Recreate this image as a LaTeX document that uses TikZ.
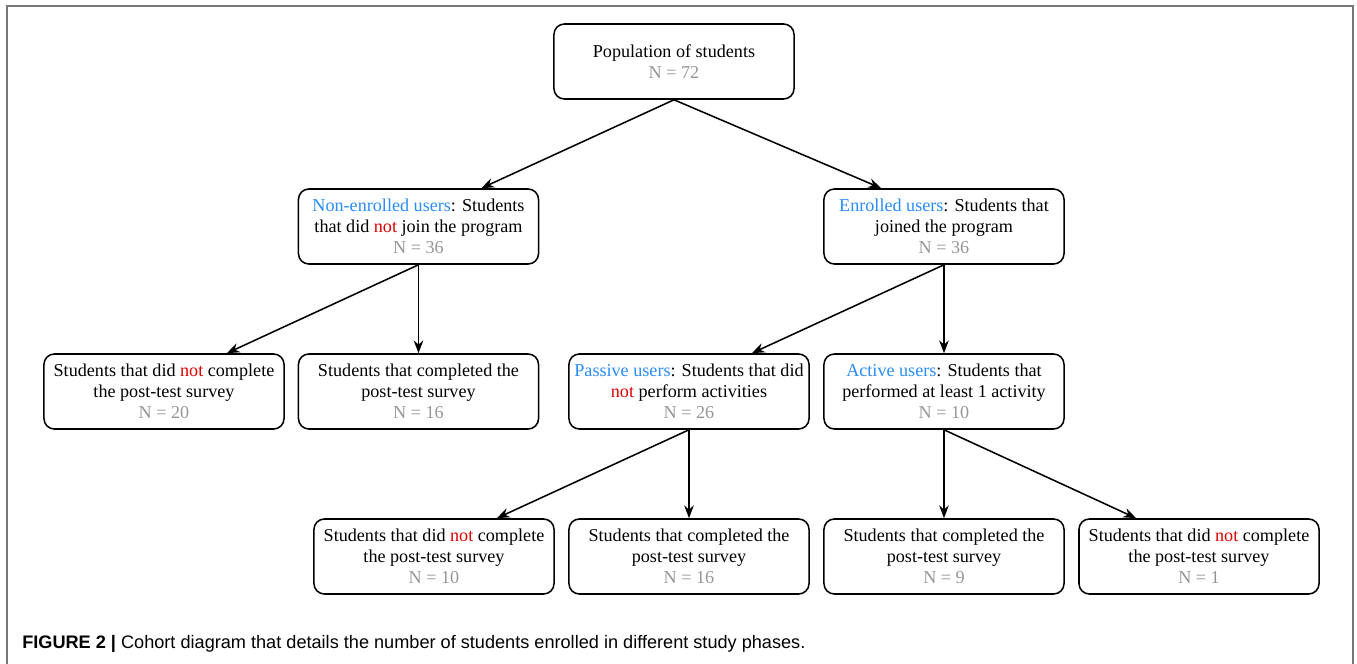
\documentclass[tikz,border=0pt]{standalone}
\usepackage{fontspec}
\setmainfont{Liberation Serif}
\newfontfamily\capfont{Liberation Sans}
\usetikzlibrary{calc,arrows.meta}
\definecolor{userblue}{RGB}{40,140,250}
\definecolor{notred}{RGB}{220,0,0}
\definecolor{numgray}{RGB}{150,150,150}
\definecolor{framegray}{RGB}{120,120,120}
\def\usr#1{\textcolor{userblue}{#1}}
\def\nt{\textcolor{notred}{not}}
\def\cnt#1{\textcolor{numgray}{N = #1}}
\tikzset{
	cohort/.style={draw, line width=1.1pt, rounded corners=0.26cm, minimum width=6cm, minimum height=1.875cm, align=center, font=\fontsize{12.9pt}{14.9pt}\selectfont, inner sep=0pt},
	flow/.style={line width=1.1pt, -{Stealth[length=0.32cm, width=0.24cm]}}
}
\begin{document}
\begin{tikzpicture}[x=0.025cm, y=-0.025cm]
			%%%%% START %%%%%
			\useasboundingbox (0, 0) rectangle (1357, 664);
			\draw[line width=1.4pt, color=framegray] (7, 664) -- (7, 6) -- (1353, 6) -- (1353, 664);
			
			\node[cohort] (pop) at (674, 61.5) {Population of students\\ \cnt{72}};
			
			\node[cohort] (nonenr) at (418.5, 226.5) {\usr{Non-enrolled users}: Students\\ that did \nt{} join the program\\ \cnt{36}};
			\node[cohort] (enr) at (944, 226.5) {\usr{Enrolled users}: Students that\\ joined the program\\ \cnt{36}};
			
			\node[cohort] (nocomp1) at (164, 391.5) {Students that did \nt{} complete\\ the post-test survey\\ \cnt{20}};
			\node[cohort] (comp1) at (418.5, 391.5) {Students that completed the\\ post-test survey\\ \cnt{16}};
			\node[cohort] (passive) at (689, 391.5) {\usr{Passive users}: Students that did\\ \nt{} perform activities\\ \cnt{26}};
			\node[cohort] (active) at (944, 391.5) {\usr{Active users}: Students that\\ performed at least 1 activity\\ \cnt{10}};
			
			\node[cohort] (nocomp2) at (434, 556.5) {Students that did \nt{} complete\\ the post-test survey\\ \cnt{10}};
			\node[cohort] (comp2) at (689, 556.5) {Students that completed the\\ post-test survey\\ \cnt{16}};
			\node[cohort] (comp3) at (944, 556.5) {Students that completed the\\ post-test survey\\ \cnt{9}};
			\node[cohort] (nocomp3) at (1199, 556.5) {Students that did \nt{} complete\\ the post-test survey\\ \cnt{1}};
			
			% arrows land off centre on the left-hand children
			\draw[flow] (pop.south) -- ($(nonenr.north west)!0.76!(nonenr.north east)$);
			\draw[flow] (pop.south) -- ($(enr.north west)!0.24!(enr.north east)$);
			\draw[flow] (nonenr.south) -- ($(nocomp1.north west)!0.76!(nocomp1.north east)$);
			\draw[flow] (nonenr.south) -- (comp1.north);
			\draw[flow] (enr.south) -- ($(passive.north west)!0.76!(passive.north east)$);
			\draw[flow] (enr.south) -- (active.north);
			\draw[flow] (passive.south) -- ($(nocomp2.north west)!0.76!(nocomp2.north east)$);
			\draw[flow] (passive.south) -- (comp2.north);
			\draw[flow] (active.south) -- (comp3.north);
			\draw[flow] (active.south) -- ($(nocomp3.north west)!0.24!(nocomp3.north east)$);
			
			\node[anchor=base west, inner sep=0pt, font=\capfont\fontsize{12.9pt}{14pt}\selectfont] (cap) at (22, 648) {\textbf{FIGURE 2 |} Cohort diagram that details the number of students enrolled in different study phases.};
			%%%%% END %%%%%
\end{tikzpicture}
\end{document}
